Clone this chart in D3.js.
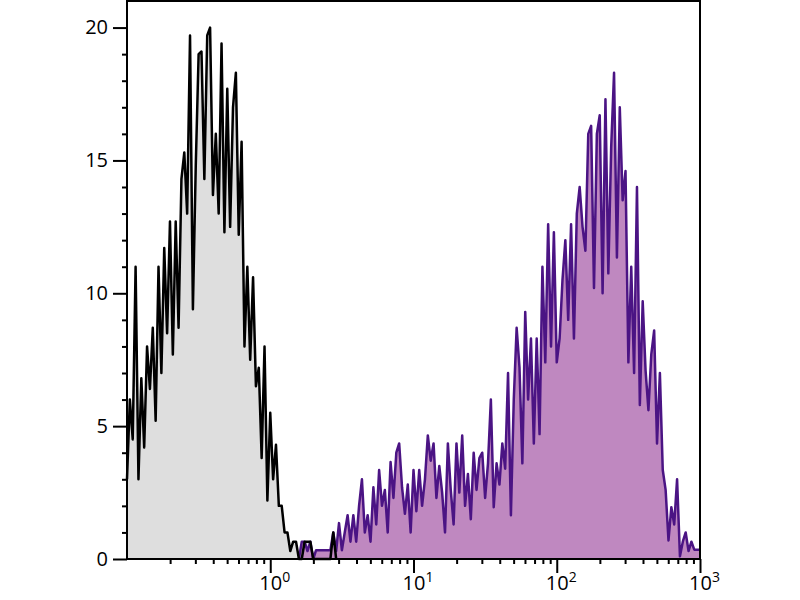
<!DOCTYPE html>
<html>
<head>
<meta charset="utf-8">
<script src="https://cdn.jsdelivr.net/npm/d3@7"></script>
<style>
	body { margin: 0; background: #fff; }
	svg text { font-family: "Open Sans", "Noto Sans", sans-serif; fill: #000; }
</style>
</head>
<body>
<div id="chart"></div>
<script>
//histogram bins, log10 channel step
var binStep = 0.02;

//unstained control, bins start at 10^-1
var grayStart = -1;
var grayCounts = [
	3, 6, 4.5, 11, 3, 6.8, 4.2, 8, 6.4, 8.7,
	5.2, 11, 7, 11.7, 8.5, 12.7, 7.7, 12.7, 8.7, 14.3,
	15.3, 13, 19.7, 9.4, 14.8, 19, 19.1, 14.3, 19.7, 20,
	13.7, 16, 13, 19.4, 12.3, 17.7, 12.5, 17, 18.3, 12.2,
	15.7, 8, 11, 7.5, 10.6, 6.5, 7.2, 3.8, 8, 2.2,
	5.5, 3, 4.3, 2, 2, 1.0, 1.0, 0.3, 0.65, 0.65,
	0, 0, 0.65, 0.65, 0.65, 0, 0, 0, 0, 0,
	0, 0, 1.0, 0
];

//stained sample, bins start at 10^0.2
var purpleStart = 0.2;
var purpleCounts = [
	0, 0.65, 0.65, 0.3, 0.65, 0, 0.33, 0.33, 0.33, 0.33,
	0.33, 0.33, 1.0, 0.3, 1.35, 0.33, 1.0, 1.65, 0.65, 1.65,
	0.65, 2.0, 3.0, 1.0, 1.65, 0.65, 2.7, 1.3, 3.35, 2.0,
	2.6, 1.0, 3.65, 2.3, 4.0, 4.35, 2.7, 1.7, 2.8, 1.0,
	3.35, 1.8, 3.35, 2.0, 3.0, 4.65, 3.7, 4.35, 2.3, 3.5,
	2.5, 1.0, 4.35, 2.6, 1.3, 4.35, 2.5, 4.65, 2.0, 3.2,
	1.5, 4.0, 2.6, 3.8, 4.0, 2.3, 3.6, 6.0, 1.95, 3.6,
	2.8, 4.35, 3.4, 7.0, 1.65, 6.0, 8.7, 7.2, 3.6, 9.3,
	6.0, 8.3, 4.35, 8.3, 4.7, 11.0, 7.4, 12.6, 8.0, 12.3,
	7.4, 8.3, 10.5, 12.0, 9.0, 12.6, 8.3, 13.0, 14.0, 12.5,
	11.6, 16.0, 16.3, 10.2, 16.0, 16.7, 10.0, 17.3, 10.75, 15.5,
	18.3, 11.35, 17.0, 13.5, 14.6, 7.4, 11.0, 7.0, 14.0, 5.8,
	9.7, 7.1, 5.6, 7.7, 8.6, 4.35, 7.0, 3.35, 2.6, 0.7,
	1.95, 1.3, 3.0, 0.1, 0.65, 1.0, 0.3, 0.65, 0.35, 0.35, 0.35
];

//ticks
var yTicks = [0, 5, 10, 15, 20];
var xTicks = [1, 10, 100, 1000];
var xTickBase = ["10", "10", "10", "10"];
var xTickExp = ["0", "1", "2", "3"];

var width = 800,
	height = 600,
	plotLeft = 127,
	plotRight = 700,
	plotTop = 1,
	plotBottom = 559;

var svg = d3.select("#chart").append("svg")
			.attr("width", width)
			.attr("height", height);

var x = d3.scaleLog().domain([0.1, 1000]).range([plotLeft, plotRight]);
var y = d3.scaleLinear().domain([0, 21]).range([plotBottom, plotTop]);

//turn counts into points
function toPoints(start, counts){
	return counts.map(function(d, i){
		return {ch: Math.pow(10, start + i * binStep), v: d};
	});
}

var gray = toPoints(grayStart, grayCounts),
	purple = toPoints(purpleStart, purpleCounts);

var area = d3.area()
	.x(function(d){ return x(d.ch); })
	.y0(y(0))
	.y1(function(d){ return y(d.v); });

var line = d3.line()
	.x(function(d){ return x(d.ch); })
	.y(function(d){ return y(d.v); });

svg.append("path").datum(gray)
	.attr("d", area).attr("fill", "#dedede");
svg.append("path").datum(purple)
	.attr("d", area).attr("fill", "#bf88c0");
svg.append("path").datum(purple)
	.attr("d", line).attr("fill", "none")
	.attr("stroke", "#4b1484").attr("stroke-width", 2.5)
	.attr("stroke-linejoin", "round");
svg.append("path").datum(gray)
	.attr("d", line).attr("fill", "none")
	.attr("stroke", "#000").attr("stroke-width", 2.5)
	.attr("stroke-linejoin", "round");

//minor ticks
var yMinor = d3.range(1, 21).filter(function(d){ return d % 5 !== 0; });
var xMinor = [];
[0.1, 1, 10, 100].forEach(function(dec){
	for (var k = 2; k <= 9; k++) xMinor.push(dec * k);
});

svg.append("g")
	.attr("transform", "translate(" + plotLeft + ",0)")
	.call(d3.axisLeft(y).tickValues(yMinor).tickSize(5).tickFormat(""));
svg.append("g")
	.attr("transform", "translate(0," + plotBottom + ")")
	.call(d3.axisBottom(x).tickValues(xMinor).tickSize(5).tickFormat(""));

//major ticks
var yAxis = svg.append("g")
	.attr("transform", "translate(" + plotLeft + ",0)")
	.call(d3.axisLeft(y).tickValues(yTicks).tickSize(14).tickPadding(5)
		.tickFormat(d3.format("d")));
yAxis.selectAll("text").style("font-size", "20px");

var xAxis = svg.append("g")
	.attr("transform", "translate(0," + plotBottom + ")")
	.call(d3.axisBottom(x).tickValues(xTicks).tickSize(14).tickFormat(""));

//x labels with superscripts
xAxis.selectAll(".tick").each(function(d, i){
	var t = d3.select(this).append("text")
		.attr("y", 31)
		.attr("text-anchor", "start")
		.style("font-size", "20px");
	t.append("tspan").text(xTickBase[i]);
	t.append("tspan").text(xTickExp[i])
		.attr("dy", -8).style("font-size", "14px");
	var w = t.select("tspan").node().getComputedTextLength();
	t.attr("x", -w / 2);
});

svg.selectAll(".domain").remove();
svg.selectAll(".tick line").attr("stroke", "#000").attr("stroke-width", 2);

//plot frame
svg.append("rect")
	.attr("x", plotLeft).attr("y", plotTop)
	.attr("width", plotRight - plotLeft).attr("height", plotBottom - plotTop)
	.attr("fill", "none")
	.attr("stroke", "#000").attr("stroke-width", 2);
</script>
</body>
</html>
